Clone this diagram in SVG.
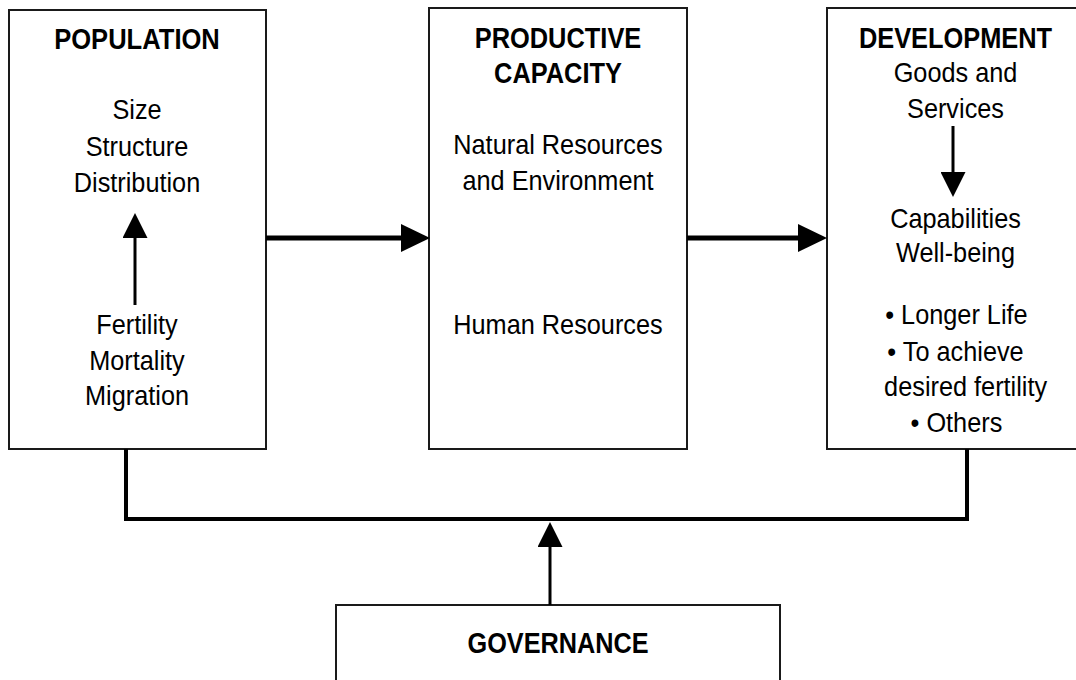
<svg xmlns="http://www.w3.org/2000/svg" width="1076" height="680" viewBox="0 0 1076 680">
<style>
.box{fill:#fff;stroke:#1a1a1a;stroke-width:2}
.t{font-family:"Liberation Sans",Arial,sans-serif;font-size:27.5px;fill:#000;text-anchor:middle}
.h{font-family:"Liberation Sans",Arial,sans-serif;font-size:29px;font-weight:bold;fill:#000;text-anchor:middle}
.big{stroke:#000;stroke-width:5;fill:none}
.sm{stroke:#000;stroke-width:3;fill:none}
.bus{stroke:#000;stroke-width:4;fill:none;stroke-linejoin:miter}
</style>
<defs>
<marker id="ahBig" viewBox="0 0 29 28" refX="0" refY="14" markerWidth="29" markerHeight="28" markerUnits="userSpaceOnUse" orient="auto"><path d="M0,0 L29,14 L0,28 z" fill="#000"/></marker>
<marker id="ahSm" viewBox="0 0 25 25" refX="0" refY="12.5" markerWidth="25" markerHeight="25" markerUnits="userSpaceOnUse" orient="auto"><path d="M0,0 L25,12.5 L0,25 z" fill="#000"/></marker>
</defs>
<rect width="1076" height="680" fill="#fff"/>
<g id="population">
<rect class="box" x="9" y="10" width="257" height="439"/>
<g transform="translate(137 0) scale(0.92 1)">
<text class="h" x="0" y="49" textLength="180" lengthAdjust="spacingAndGlyphs">POPULATION</text>
<text class="t" x="0" y="119">Size</text>
<text class="t" x="0" y="156">Structure</text>
<text class="t" x="0" y="192">Distribution</text>
<text class="t" x="0" y="334">Fertility</text>
<text class="t" x="0" y="370">Mortality</text>
<text class="t" x="0" y="405">Migration</text>
</g>
</g>
<g id="productive-capacity">
<rect class="box" x="429" y="8" width="258" height="441"/>
<g transform="translate(558 0) scale(0.92 1)">
<text class="h" x="0" y="48" textLength="181" lengthAdjust="spacingAndGlyphs">PRODUCTIVE</text>
<text class="h" x="0" y="83" textLength="139" lengthAdjust="spacingAndGlyphs">CAPACITY</text>
<text class="t" x="0" y="154">Natural Resources</text>
<text class="t" x="0" y="190">and Environment</text>
<text class="t" x="0" y="334">Human Resources</text>
</g>
</g>
<g id="development">
<rect class="box" x="827" y="8" width="257" height="441"/>
<g transform="translate(955.5 0) scale(0.92 1)">
<text class="h" x="0" y="48" textLength="210" lengthAdjust="spacingAndGlyphs">DEVELOPMENT</text>
<text class="t" x="0" y="82">Goods and</text>
<text class="t" x="0" y="118">Services</text>
<text class="t" x="0" y="228">Capabilities</text>
<text class="t" x="0" y="262">Well-being</text>
<text class="t" x="1" y="324">• Longer Life</text>
<text class="t" x="0" y="361">• To achieve</text>
<text class="t" x="11" y="396">desired fertility</text>
<text class="t" x="1" y="432">• Others</text>
</g>
</g>
<g id="governance">
<rect class="box" x="336" y="605" width="444" height="90"/>
<text class="h" x="558" y="653" textLength="181" lengthAdjust="spacingAndGlyphs">GOVERNANCE</text>
</g>
<g id="connectors">
<line class="big" x1="266" y1="238" x2="401" y2="238" marker-end="url(#ahBig)"/>
<line class="big" x1="687" y1="238" x2="798" y2="238" marker-end="url(#ahBig)"/>
<line class="sm" x1="135" y1="305" x2="135" y2="238" marker-end="url(#ahSm)"/>
<line class="sm" x1="953" y1="126" x2="953" y2="172" marker-end="url(#ahSm)"/>
<path class="bus" d="M126,449 V519 H967 V449"/>
<line class="sm" x1="550" y1="605" x2="550" y2="547" marker-end="url(#ahSm)"/>
</g>
</svg>
